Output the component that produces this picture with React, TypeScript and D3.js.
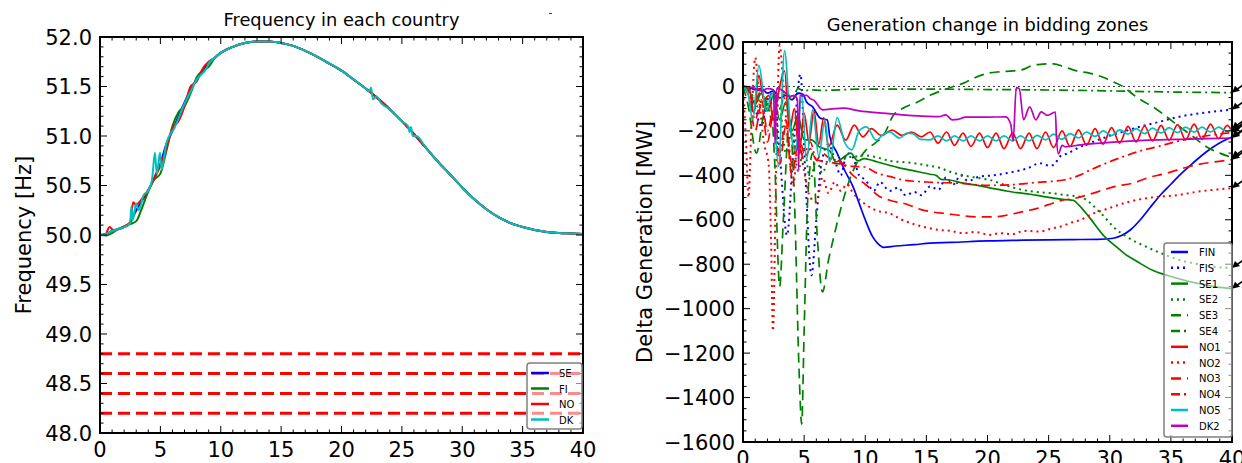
import * as React from 'react';
import * as d3 from 'd3';

type Pt = [number, number];

const W = 1242;
const H = 463;
const FONT = '"DejaVu Sans", sans-serif';

// ---------- left panel: frequency in each country ----------
// all four countries follow the same curve after the first seconds
const freqTail: Pt[] = [
  [9.5, 51.79], [10, 51.84], [11, 51.9], [12, 51.94], [13, 51.955], [14, 51.955], [15, 51.94],
  [16, 51.91], [17, 51.86], [18, 51.8], [19, 51.73], [20, 51.66], [21, 51.57], [22, 51.48],
  [23, 51.38], [24, 51.27], [25, 51.15], [26, 51.02], [27, 50.88], [28, 50.74], [29, 50.61],
  [30, 50.48], [31, 50.36], [32, 50.26], [33, 50.18], [34, 50.12], [35, 50.08], [36, 50.05],
  [37, 50.03], [38, 50.02], [39, 50.015], [40, 50.01],
];
const seFreq: Pt[] = [
  [0, 50], [0.5, 50.01], [1, 50.04], [1.5, 50.06], [2, 50.08], [2.5, 50.12], [2.8, 50.2],
  [3.1, 50.27], [3.5, 50.35], [4, 50.45], [4.5, 50.58], [5, 50.72], [5.5, 50.92], [6, 51.05],
  [6.5, 51.2], [7, 51.34], [7.5, 51.47], [8, 51.57], [8.5, 51.65], [9, 51.74],
];
const fiFreq: Pt[] = [
  [0, 50], [0.5, 49.995], [1, 50.02], [1.5, 50.06], [2, 50.09], [2.5, 50.11], [3, 50.14],
  [3.5, 50.28], [4, 50.44], [4.5, 50.56], [5, 50.62], [5.5, 50.85], [6, 51.1], [6.5, 51.24],
  [7, 51.3], [7.5, 51.43], [8, 51.59], [8.5, 51.66], [9, 51.7],
];
const noFreq: Pt[] = [
  [0, 50], [0.4, 50.0], [0.8, 50.08], [1.1, 50.05], [1.6, 50.06], [2.2, 50.1], [2.5, 50.13],
  [2.75, 50.33], [3.0, 50.3], [3.3, 50.34], [3.7, 50.4], [4.2, 50.5], [4.7, 50.62], [5.0, 50.7],
  [5.5, 50.88], [6, 51.08], [6.5, 51.15], [7, 51.3], [7.5, 51.5], [8, 51.55], [8.5, 51.68],
  [9, 51.75],
];
const dkFreq: Pt[] = [
  [0, 50], [0.5, 50.01], [1, 50.04], [1.5, 50.06], [2, 50.08], [2.5, 50.12], [2.6, 50.29],
  [2.7, 50.15], [3.0, 50.32], [3.2, 50.25], [3.6, 50.4], [4.0, 50.45], [4.3, 50.55], [4.55, 50.83],
  [4.7, 50.62], [4.97, 50.83], [5.1, 50.66], [5.5, 50.93], [6.2, 51.09], [6.9, 51.3], [7.5, 51.45],
  [8, 51.57], [8.8, 51.68], [9, 51.73],
];
// DK spikes in the decay
const dkSpikes: Pt[] = [
  [22.3, 51.45], [22.45, 51.49], [22.6, 51.37], [22.9, 51.4], [23.3, 51.33],
  [25.5, 51.1], [25.65, 51.04], [25.75, 51.09], [25.9, 51.0], [26.2, 51.0],
];
const freqLimits = [48.8, 48.6, 48.4, 48.2];

const freqSeries = [
  { name: 'SE', color: '#0000ff', data: seFreq.concat(freqTail) },
  { name: 'FI', color: '#008000', data: fiFreq.concat(freqTail) },
  { name: 'NO', color: '#ff0000', data: noFreq.concat(freqTail) },
  {
    name: 'DK',
    color: '#00bfbf',
    data: dkFreq.concat(freqTail.filter((d) => !(d[0] > 22 && d[0] < 24) && !(d[0] > 25 && d[0] < 27)), dkSpikes).sort((a, b) => a[0] - b[0]),
  },
];

// ---------- right panel: generation change in bidding zones ----------
const finGen: Pt[] = [
  [0, 0], [0.5, -5], [1, -15], [1.5, -10], [2, -30], [2.5, -20], [3, -52], [3.5, -40], [4, -60],
  [4.5, -30], [4.9, -35], [5.2, -70], [5.7, -92], [6.3, -142], [6.9, -151], [7.1, -226], [7.7, -300],
  [8.3, -376], [9.0, -451], [9.6, -541], [10.0, -600], [10.6, -676], [11.0, -705], [11.5, -724],
  [12.5, -718], [14, -712], [15.3, -705], [17, -702], [20, -695], [22, -693], [25, -690], [27, -689],
  [29, -688], [30.3, -683], [31, -670], [31.7, -645], [32.5, -600], [33.3, -545], [34.2, -485],
  [35, -440], [35.7, -400], [36.6, -355], [37.5, -312], [38.4, -275], [39.2, -248], [40, -228],
];
const fisGen: Pt[] = [
  [0, 0], [0.5, -30], [1, -100], [1.5, -180], [2, -60], [2.5, -30], [3, -300], [3.6, -670],
  [4.1, -300], [4.7, 55], [5.1, -400], [5.6, -850], [6.0, -600], [6.4, -350], [7, -260], [7.5, -330],
  [8, -400], [8.5, -300], [9, -320], [9.5, -400], [10, -420], [10.7, -470], [11.2, -430], [12, -470],
  [12.7, -455], [13.3, -490], [14, -475], [14.6, -490], [15.3, -450], [16, -465], [16.6, -410],
  [17.2, -440], [17.8, -400], [18.4, -425], [19.4, -405], [20.5, -400], [22.1, -384], [23.2, -370],
  [24.3, -346], [25, -356], [25.4, -354], [25.9, -316], [26.6, -300], [27.6, -271], [28.6, -250],
  [29.8, -226], [31, -205], [32.5, -181], [34, -160], [35.7, -136], [37.5, -120], [39, -110], [40, -105],
];
const se1Gen: Pt[] = [
  [0, 0], [0.5, -20], [1, -80], [1.5, -30], [2, -110], [2.5, -40], [3, -150], [3.5, -70], [4, -200],
  [4.5, -130], [5, -240], [5.6, -240], [6.2, -270], [7.1, -290], [7.6, -340], [8.2, -320], [8.8, -300],
  [9.4, -335], [9.9, -325], [10.4, -330], [11, -340], [12, -355], [12.7, -365], [14, -380], [15.3, -395],
  [15.8, -400], [16.2, -418], [16.8, -420], [18, -435], [19.2, -445], [20.5, -460], [21.5, -470],
  [22.4, -478], [23.5, -485], [24.5, -495], [25.7, -505], [26.5, -510], [27, -512], [27.5, -535],
  [28.3, -587], [29.6, -677], [30.5, -720], [31.2, -752], [32.3, -790], [33.5, -827], [34.8, -852],
  [36.1, -872], [37.5, -890], [38.7, -902], [40, -910],
];
const se2Gen: Pt[] = [
  [0, 0], [0.6, -30], [1.2, -90], [1.8, -40], [2.4, -150], [3, -100], [3.5, -300], [4, -200],
  [4.5, -380], [5, -280], [5.5, -420], [6, -330], [6.5, -390], [7, -330], [7.7, -350], [8.5, -320],
  [9.2, -315], [10, -310], [11, -320], [12, -335], [13, -340], [14, -345], [15, -355], [16, -365],
  [17, -385], [18, -400], [19, -410], [20.2, -421], [21.5, -445], [22.9, -466], [24, -475], [25.4, -481],
  [26.5, -490], [27.6, -497], [28.3, -520], [29, -556], [29.7, -595], [30.3, -632], [31.5, -680],
  [33, -722], [34.4, -755], [35.7, -781], [37, -797], [38.4, -811], [40, -817],
];
const se3Gen: Pt[] = [
  [0, 0], [0.4, -80], [1.1, -300], [1.7, -120], [2.2, -40], [2.6, -350], [3.0, -900], [3.3, -600],
  [3.8, -150], [4.2, -500], [4.6, -1300], [4.8, -1520], [5.0, -1100], [5.3, -500], [5.7, -300],
  [6.1, -700], [6.5, -925], [7.0, -780], [7.5, -660], [8.2, -510], [9.0, -380], [10.0, -290],
  [10.8, -255], [11.5, -220], [12.3, -130], [13.2, -95], [14.2, -72], [15.3, -40], [16.4, -16],
  [17.2, 0], [18, 14], [19, 40], [20, 59], [21, 66], [22.1, 70], [23, 78], [23.7, 95], [24.5, 100],
  [25.4, 102], [26.3, 88], [27.3, 70], [28.4, 59], [29.5, 40], [30.3, 20], [31.1, -1], [32, -40],
  [33, -75], [33.5, -91], [34.5, -130], [35.7, -181], [36.8, -225], [37.9, -271], [39, -300], [40, -320],
];
const se4Gen: Pt[] = [
  [0, 0], [0.5, -10], [1, -60], [1.5, -20], [2, -80], [2.5, -30], [3, -100], [3.5, -20], [4, -60],
  [4.5, -10], [5, -20], [5.5, -15], [6.5, -18], [8, -15], [10, -12], [15, -12], [20, -14], [25, -16],
  [30, -20], [35, -25], [40, -28],
];
const no1Gen: Pt[] = [
  [0, 0], [0.5, -10], [0.9, -120], [1.3, 50], [1.7, -60], [2.1, -40], [2.5, -150], [2.9, -30],
  [3.4, 70], [3.8, -200], [4.2, -100], [4.6, -300], [5, -120], [5.4, -250], [5.8, -110], [6.2, -260],
  [6.6, -140], [7.0, -271], [7.7, -174], [8.4, -242], [9.1, -174], [9.8, -227], [10.5, -190],
  [11.3, -220], [12.2, -197], [13, -220], [13.8, -205], [14.6, -227], [15.3, -205], [15.95, -255],
  [16.65, -205], [17.3, -265], [18.0, -210], [18.65, -270], [19.35, -210], [20.0, -275], [20.7, -210],
  [21.35, -280], [22.05, -210], [22.7, -280], [23.4, -210], [24.05, -280], [24.75, -205], [25.4, -275],
  [26.1, -200], [26.75, -270], [27.45, -195], [28.1, -265], [28.8, -190], [29.45, -260], [30.15, -185],
  [30.8, -255], [31.5, -180], [32.15, -250], [32.85, -178], [33.5, -245], [34.2, -175], [34.85, -242],
  [35.55, -172], [36.2, -240], [36.9, -170], [37.55, -238], [38.25, -170], [38.9, -235], [39.6, -175],
  [40, -200],
];
const no2Gen: Pt[] = [
  [0, 0], [0.25, -250], [0.45, -500], [0.7, -150], [1.0, 130], [1.3, -40], [1.7, -250], [2.1, -350],
  [2.3, -700], [2.45, -1100], [2.7, -400], [3.0, 185], [3.3, 0], [3.7, -250], [4.1, -450], [4.5, -250],
  [5, -380], [5.5, -500], [6, -520], [6.5, -410], [7, -480], [7.5, -430], [8, -470], [8.5, -440],
  [9, -480], [10, -530], [11, -560], [12, -571], [13, -600], [14, -620], [15, -635], [16.1, -646],
  [17, -650], [18, -660], [19, -655], [20.2, -668], [21, -660], [22, -665], [23, -650], [24.3, -653],
  [25.2, -640], [26, -630], [27, -610], [27.6, -601], [28.5, -575], [29.3, -560], [30.3, -541],
  [31.5, -520], [33, -503], [34.3, -495], [35.7, -488], [37, -475], [38.4, -466], [40, -458],
];
const no3Gen: Pt[] = [
  [0, 0], [0.5, -50], [1, -200], [1.5, -80], [2, -250], [2.5, -120], [3, -350], [3.5, -180], [4, -400],
  [4.5, -260], [5, -330], [5.5, -280], [6, -330], [6.5, -300], [7, -320], [8, -340], [9, -400],
  [10, -440], [11.2, -496], [12, -512], [13.4, -530], [14.5, -553], [15.5, -565], [16.7, -573],
  [18, -582], [19.4, -587], [20.8, -586], [22.1, -573], [23.2, -560], [24, -550], [25, -532],
  [26.2, -511], [27, -505], [28.6, -481], [30.3, -452], [32.2, -430], [33, -413], [34.6, -391],
  [36, -368], [37.1, -353], [38.5, -340], [40, -330],
];
const no4Gen: Pt[] = [
  [0, 0], [0.5, -40], [1, -150], [1.5, -60], [2, -200], [2.5, -100], [3, -300], [3.5, -150], [4, -350],
  [4.5, -200], [5, -300], [5.5, -250], [6, -330], [7, -340], [8, -350], [9, -360], [9.8, -361],
  [11, -391], [12, -405], [13.1, -421], [15, -430], [17.8, -436], [20, -445], [22, -442], [24, -432],
  [26.2, -421], [27.6, -398], [28.4, -376], [29.5, -350], [31.1, -316], [32.5, -290], [33.9, -271],
  [35.3, -250], [36.8, -232], [38.2, -220], [39.6, -210], [40, -208],
];
const no5Gen: Pt[] = [
  [0, 0], [0.4, -30], [0.8, -150], [1.3, 95], [1.9, -110], [2.4, -30], [2.9, -360], [3.4, 160],
  [3.9, -200], [4.3, -290], [4.8, -40], [5.2, -330], [5.7, -105], [6.2, -315], [6.7, -150], [7.1, -340],
  [7.7, -140], [8.3, -250], [8.9, -285], [9.5, -200], [10.1, -182], [10.9, -242], [11.5, -215],
  [12, -205], [12.8, -232], [13.4, -210], [13.9, -212], [14.5, -238], [15.3, -240], [15.95, -222],
  [16.65, -245], [17.3, -222], [18.0, -245], [18.65, -222], [19.35, -245], [20.0, -222], [20.7, -245],
  [21.35, -222], [22.05, -245], [22.7, -222], [23.4, -245], [24.05, -220], [24.75, -240], [25.4, -215],
  [26.1, -238], [26.75, -212], [27.45, -232], [28.1, -205], [28.8, -225], [29.45, -200], [30.15, -220],
  [30.8, -195], [31.5, -215], [32.15, -190], [32.85, -212], [33.5, -188], [34.2, -210], [34.85, -185],
  [35.55, -208], [36.2, -183], [36.9, -206], [37.55, -183], [38.25, -205], [38.9, -183], [39.6, -203],
  [40, -190],
];
const dk2Gen: Pt[] = [
  [0, 0], [0.8, -5], [1.5, -20], [2.0, -10], [2.5, -15], [2.62, -260], [2.75, -10], [3.3, -20],
  [3.8, -45], [4.2, -40], [4.45, -60], [4.55, -380], [4.65, -40], [5.2, -40], [5.5, -55], [5.8, -62],
  [6.5, -105], [7.5, -100], [8.2, -98], [9.5, -110], [11.7, -121], [13, -128], [14.7, -134], [16, -136],
  [16.6, -128], [17.1, -150], [17.6, -148], [18.2, -138], [20, -138], [21.5, -137], [21.9, -170],
  [22.1, -245], [22.35, -5], [22.6, -10], [22.95, -150], [23.45, -92], [23.95, -150], [24.4, -114],
  [24.9, -130], [25.55, -115], [25.65, -240], [25.8, -303], [26.1, -265], [26.4, -272], [27.6, -263],
  [30, -252], [33.1, -242], [36.5, -237], [40, -232],
];
const zeroRef = 0;

const zoneSeries = [
  { name: 'FIN', color: '#0000ff', style: '-', data: finGen },
  { name: 'FIS', color: '#0000ff', style: ':', data: fisGen },
  { name: 'SE1', color: '#008000', style: '-', data: se1Gen },
  { name: 'SE2', color: '#008000', style: ':', data: se2Gen },
  { name: 'SE3', color: '#008000', style: '--', data: se3Gen },
  { name: 'SE4', color: '#008000', style: '-.', data: se4Gen },
  { name: 'NO1', color: '#ff0000', style: '-', data: no1Gen },
  { name: 'NO2', color: '#ff0000', style: ':', data: no2Gen },
  { name: 'NO3', color: '#ff0000', style: '--', data: no3Gen },
  { name: 'NO4', color: '#ff0000', style: '-.', data: no4Gen },
  { name: 'NO5', color: '#00bfbf', style: '-', data: no5Gen },
  { name: 'DK2', color: '#bf00bf', style: '-', data: dk2Gen },
];

const dashes: Record<string, string | null> = {
  '-': null,
  ':': '2,4',
  '--': '10,6',
  '-.': '9,4,2,4',
};

const freqXTicks = [0, 5, 10, 15, 20, 25, 30, 35, 40];
const freqYTicks = [48, 48.5, 49, 49.5, 50, 50.5, 51, 51.5, 52];
const genXTicks = [0, 5, 10, 15, 20, 25, 30, 35, 40];
const genYTicks = [200, 0, -200, -400, -600, -800, -1000, -1200, -1400, -1600];

function frame(g: any, x: any, y: any, xt: number[], yt: number[], xMinor: number[], yMinor: number[], fmtY: (v: number) => string) {
  const [xl, xr] = x.range();
  const [yb, ytp] = y.range();
  const tk = g.append('g').attr('stroke', '#000').attr('stroke-width', 1);
  const addX = (vals: number[], len: number) =>
    vals.forEach((v) => {
      tk.append('line').attr('x1', x(v)).attr('x2', x(v)).attr('y1', yb).attr('y2', yb - len);
      tk.append('line').attr('x1', x(v)).attr('x2', x(v)).attr('y1', ytp).attr('y2', ytp + len);
    });
  const addY = (vals: number[], len: number) =>
    vals.forEach((v) => {
      tk.append('line').attr('y1', y(v)).attr('y2', y(v)).attr('x1', xl).attr('x2', xl + len);
      tk.append('line').attr('y1', y(v)).attr('y2', y(v)).attr('x1', xr).attr('x2', xr - len);
    });
  addX(xMinor.filter((v) => !xt.includes(v)), 3.5);
  addY(yMinor.filter((v) => !yt.some((m) => Math.abs(m - v) < 1e-6)), 3.5);
  addX(xt, 7);
  addY(yt, 7);

  g.append('rect')
    .attr('x', xl).attr('y', ytp).attr('width', xr - xl).attr('height', yb - ytp)
    .attr('fill', 'none').attr('stroke', '#000').attr('stroke-width', 2);

  const lab = g.append('g').attr('font-family', FONT).attr('font-size', 21).attr('fill', '#000');
  xt.forEach((v) =>
    lab.append('text').attr('x', x(v)).attr('y', yb + 24).attr('text-anchor', 'middle').text(String(v)),
  );
  yt.forEach((v) =>
    lab.append('text').attr('x', xl - 8).attr('y', y(v) + 7.5).attr('text-anchor', 'end').text(fmtY(v)),
  );
}

function legend(g: any, items: any[], box: { x: number; y: number; w: number; h: number }, row0: number, rowH: number, sx: [number, number], tx: number) {
  const lg = g.append('g');
  lg.append('rect')
    .attr('x', box.x).attr('y', box.y).attr('width', box.w).attr('height', box.h).attr('rx', 3)
    .attr('fill', '#fff').attr('fill-opacity', 0.55).attr('stroke', '#808080').attr('stroke-width', 1.5);
  items.forEach((it, i) => {
    const cy = row0 + i * rowH;
    lg.append('line')
      .attr('x1', sx[0]).attr('x2', sx[1]).attr('y1', cy).attr('y2', cy)
      .attr('stroke', it.color).attr('stroke-width', 2.5)
      .attr('stroke-dasharray', dashes[it.style || '-']);
    lg.append('text')
      .attr('x', tx).attr('y', cy + 4).attr('font-family', FONT).attr('font-size', 10).attr('fill', '#000')
      .text(it.name);
  });
}

function drawFreq(svg: any) {
  const x = d3.scaleLinear().domain([0, 40]).range([100, 583]);
  const y = d3.scaleLinear().domain([48, 52]).range([433, 37]);
  const g = svg.append('g');
  g.append('clipPath').attr('id', 'clip-freq').append('rect')
    .attr('x', 100).attr('y', 37).attr('width', 483).attr('height', 396);
  const plot = g.append('g').attr('clip-path', 'url(#clip-freq)');
  const line = d3.line<Pt>().x((d) => x(d[0])).y((d) => y(d[1])).curve(d3.curveMonotoneX);

  freqSeries.forEach((s) =>
    plot.append('path').attr('d', line(s.data)).attr('fill', 'none')
      .attr('stroke', s.color).attr('stroke-width', 2).attr('stroke-linejoin', 'round'),
  );
  freqLimits.forEach((v) =>
    plot.append('line').attr('x1', x(0)).attr('x2', x(40)).attr('y1', y(v)).attr('y2', y(v))
      .attr('stroke', '#ff0000').attr('stroke-width', 3).attr('stroke-dasharray', '12,6'),
  );

  frame(g, x, y, freqXTicks, freqYTicks, x.ticks(40), y.ticks(40), (v) => v.toFixed(1));

  g.append('text').attr('x', (x(0) + x(40)) / 2).attr('y', 26).attr('text-anchor', 'middle')
    .attr('font-family', FONT).attr('font-size', 17.8).text('Frequency in each country');
  g.append('text').attr('transform', `translate(31,${(y(48) + y(52)) / 2}) rotate(-90)`)
    .attr('text-anchor', 'middle').attr('font-family', FONT).attr('font-size', 21).text('Frequency [Hz]');

  legend(g, freqSeries, { x: 527, y: 363, w: 55, h: 66 }, 373, 15.5, [531, 549], 559);

  // stray mark above the panel
  g.append('line').attr('x1', 549).attr('x2', 552).attr('y1', 13.5).attr('y2', 13.5)
    .attr('stroke', '#444').attr('stroke-width', 1);
}

function drawGen(svg: any) {
  const x = d3.scaleLinear().domain([0, 40]).range([743, 1232]);
  const y = d3.scaleLinear().domain([-1600, 200]).range([442, 42]);
  const g = svg.append('g');
  g.append('clipPath').attr('id', 'clip-gen').append('rect')
    .attr('x', 743).attr('y', 42).attr('width', 489).attr('height', 400);
  const plot = g.append('g').attr('clip-path', 'url(#clip-gen)');
  const line = d3.line<Pt>().x((d) => x(d[0])).y((d) => y(d[1])).curve(d3.curveMonotoneX);

  plot.append('line').attr('x1', x(0)).attr('x2', x(40)).attr('y1', y(zeroRef)).attr('y2', y(zeroRef))
    .attr('stroke', '#333').attr('stroke-width', 1).attr('stroke-dasharray', '2,3');

  zoneSeries.forEach((s) =>
    plot.append('path').attr('d', line(s.data)).attr('fill', 'none')
      .attr('stroke', s.color).attr('stroke-width', s.style === ':' ? 2 : 1.7)
      .attr('stroke-dasharray', dashes[s.style]).attr('stroke-linejoin', 'round'),
  );

  frame(g, x, y, genXTicks, genYTicks, x.ticks(40), y.ticks(36), (v) => (v < 0 ? '\u2212' + Math.abs(v) : String(v)));

  // annotation arrows pointing at the end of every series
  const arr = g.append('g');
  zoneSeries.forEach((s) => {
    const last = s.data[s.data.length - 1];
    const px = x(last[0]);
    const py = y(last[1]);
    arr.append('line').attr('x1', px + 3).attr('y1', py - 2).attr('x2', px + 20).attr('y2', py - 14)
      .attr('stroke', '#000').attr('stroke-width', 1.6);
    arr.append('path').attr('d', `M${px},${py}L${px + 8},${py - 2}L${px + 3},${py - 7}Z`).attr('fill', '#000');
  });

  g.append('text').attr('x', (x(0) + x(40)) / 2).attr('y', 31).attr('text-anchor', 'middle')
    .attr('font-family', FONT).attr('font-size', 17.8).text('Generation change in bidding zones');
  g.append('text').attr('transform', `translate(652,${(y(-1600) + y(200)) / 2}) rotate(-90)`)
    .attr('text-anchor', 'middle').attr('font-family', FONT).attr('font-size', 21).text('Delta Generation [MW]');

  legend(g, zoneSeries, { x: 1164, y: 243, w: 68, h: 194 }, 252, 15.8, [1171, 1188], 1199);
}

export default function App() {
  const svgRef = React.useRef<SVGSVGElement>(null);

  React.useEffect(() => {
    if (!svgRef.current) return;
    const svg = d3.select(svgRef.current);
    svg.selectAll('*').remove();
    drawFreq(svg);
    drawGen(svg);
    return () => {
      if (svgRef.current) d3.select(svgRef.current).selectAll('*').remove();
    };
  }, []);

  return (
    <svg
      ref={svgRef}
      width={W}
      height={H}
      style={{ position: 'absolute', left: 0, top: 0, background: '#fff', display: 'block' }}
    />
  );
}
